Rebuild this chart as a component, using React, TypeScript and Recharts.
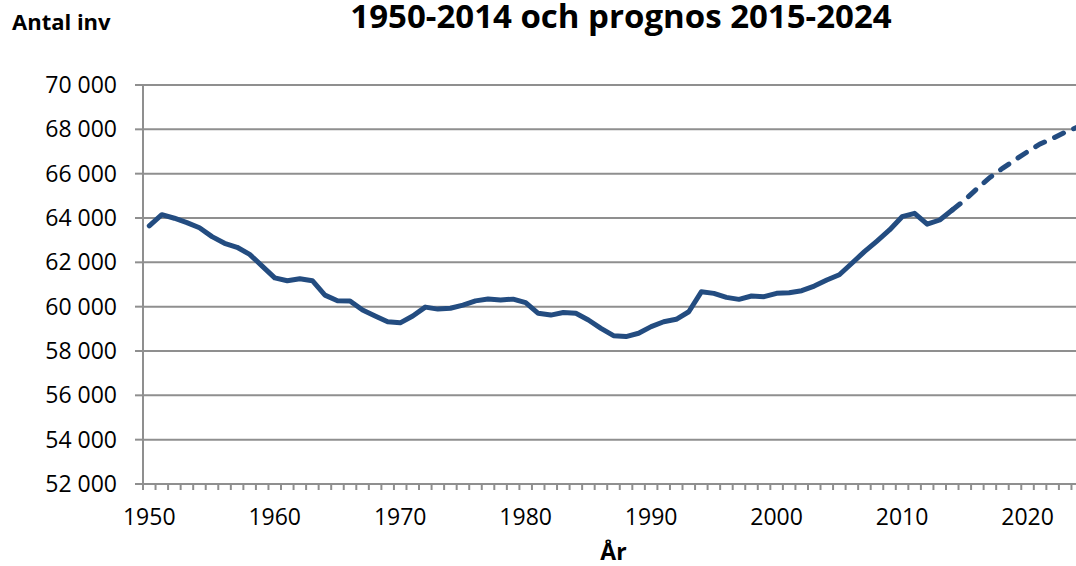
import { LineChart, Line, XAxis, YAxis, CartesianGrid, Label } from "recharts";

const years = [
  1950, 1951, 1952, 1953, 1954, 1955, 1956, 1957, 1958, 1959,
  1960, 1961, 1962, 1963, 1964, 1965, 1966, 1967, 1968, 1969,
  1970, 1971, 1972, 1973, 1974, 1975, 1976, 1977, 1978, 1979,
  1980, 1981, 1982, 1983, 1984, 1985, 1986, 1987, 1988, 1989,
  1990, 1991, 1992, 1993, 1994, 1995, 1996, 1997, 1998, 1999,
  2000, 2001, 2002, 2003, 2004, 2005, 2006, 2007, 2008, 2009,
  2010, 2011, 2012, 2013, 2014, 2015, 2016, 2017, 2018, 2019,
  2020, 2021, 2022, 2023, 2024,
];

// 1950-2014
const actual = [
  63650, 64150, 63990, 63790, 63560, 63160, 62860, 62680, 62360, 61830,
  61300, 61170, 61260, 61170, 60520, 60270, 60260, 59850, 59580, 59320,
  59270, 59580, 59980, 59890, 59930, 60070, 60260, 60350, 60300, 60340,
  60180, 59700, 59620, 59740, 59700, 59400, 59020, 58690, 58650, 58800,
  59100, 59320, 59430, 59770, 60670, 60600, 60420, 60330, 60480, 60450,
  60600, 60630, 60720, 60930, 61200, 61440, 61960, 62480, 62960, 63460,
  64060, 64210, 63720, 63910, 64360,
];

// prognos 2014-2024 (starts at last actual year)
const forecastStart = 2014;
const forecast = [64360, 64810, 65340, 65830, 66240, 66620, 66990, 67340, 67590, 67870, 68100];

const yTicks = [52000, 54000, 56000, 58000, 60000, 62000, 64000, 66000, 68000, 70000];
const decadeTicks = [1950, 1960, 1970, 1980, 1990, 2000, 2010, 2020];

const chartData = years.map((year, i) => {
  const f = year - forecastStart;
  return {
    year,
    actual: i < actual.length ? actual[i] : null,
    forecast: f >= 0 && f < forecast.length ? forecast[f] : null,
  };
});

// tick marks sit between the years, like a category axis
const yearBounds = [...years.map((y) => y - 0.5), years[years.length - 1] + 0.5];

const FONT = "'Open Sans', sans-serif";
const GRID = "#8f8f8f";
const BLUE = "#234C80";

const fmt = (v: number) => {
  const th = Math.floor(v / 1000);
  const rest = String(v % 1000).padStart(3, "0");
  return `${th} ${rest}`;
};

export default function App() {
  return (
    <div
      style={{
        position: "fixed",
        left: 0,
        top: 0,
        width: 1076,
        height: 566,
        overflow: "hidden",
        background: "#fff",
        fontFamily: FONT,
      }}
    >
      <LineChart
        width={1084}
        height={566}
        data={chartData}
        margin={{ top: 85, right: 0, left: 0, bottom: 0 }}
      >
        <CartesianGrid vertical={false} stroke={GRID} strokeWidth={2} />
        <XAxis
          xAxisId="a"
          dataKey="year"
          type="number"
          domain={[1949.5, 2024.5]}
          ticks={yearBounds}
          interval={0}
          height={6}
          tickSize={6}
          tickFormatter={() => ""}
          tick={{ fontSize: 1 }}
          stroke={GRID}
          strokeWidth={2}
          allowDataOverflow
        />
        <XAxis
          xAxisId="b"
          dataKey="year"
          type="number"
          domain={[1949.5, 2024.5]}
          ticks={decadeTicks}
          interval={0}
          height={76}
          tickSize={0}
          tickMargin={19}
          tickLine={false}
          axisLine={false}
          tick={{ fontSize: 23, fill: "#000", fontFamily: FONT }}
          allowDataOverflow
        >
          <Label
            value="År"
            position="insideBottom"
            offset={6}
            style={{ fontSize: 23, fontWeight: 700, fill: "#000", fontFamily: FONT }}
          />
        </XAxis>
        <YAxis
          width={143}
          domain={[52000, 70000]}
          ticks={yTicks}
          interval={0}
          tickSize={8}
          tickMargin={18}
          tickFormatter={fmt}
          stroke={GRID}
          strokeWidth={2}
          tick={{ fontSize: 23, fill: "#000", fontFamily: FONT }}
          allowDataOverflow
        />
        <Line
          xAxisId="a"
          dataKey="actual"
          stroke={BLUE}
          strokeWidth={5}
          strokeLinejoin="round"
          strokeLinecap="round"
          dot={false}
          activeDot={false}
          isAnimationActive={false}
        />
        <Line
          xAxisId="b"
          dataKey="forecast"
          stroke={BLUE}
          strokeWidth={5}
          strokeDasharray="10 11"
          strokeLinecap="round"
          dot={false}
          activeDot={false}
          isAnimationActive={false}
        />
      </LineChart>
      <svg
        width={1076}
        height={566}
        style={{ position: "absolute", left: 0, top: 0, pointerEvents: "none" }}
      >
        <text x={12} y={30} fontSize={22} fontWeight={700} fontFamily={FONT} fill="#000">
          Antal inv
        </text>
        <text
          x={621}
          y={28}
          textAnchor="middle"
          fontSize={33}
          fontWeight={700}
          fontFamily={FONT}
          fill="#000"
        >
          1950-2014 och prognos 2015-2024
        </text>
      </svg>
    </div>
  );
}
